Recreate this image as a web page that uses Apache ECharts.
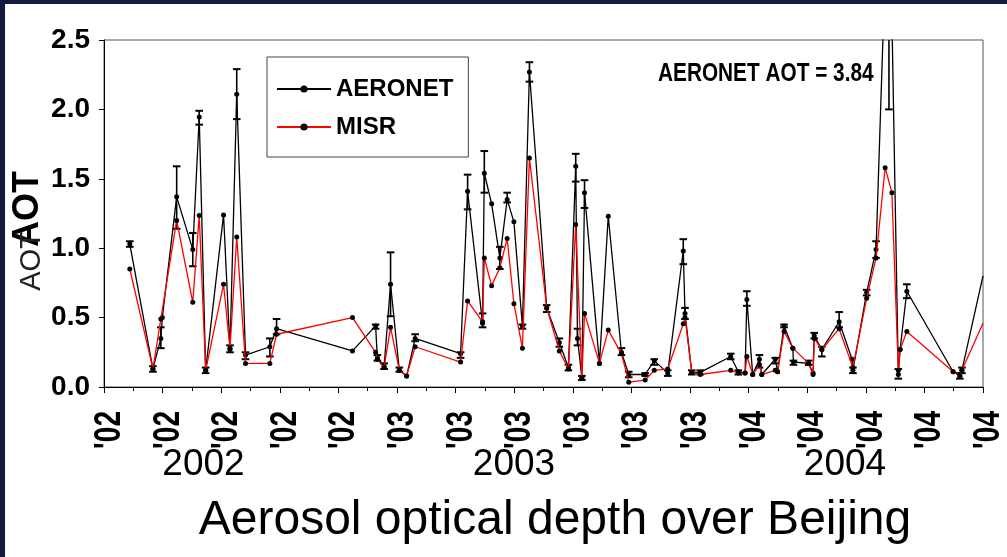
<!DOCTYPE html>
<html><head><meta charset="utf-8">
<script src="https://cdn.jsdelivr.net/npm/echarts@6/dist/echarts.min.js"></script>
<style>html,body{margin:0;padding:0;background:#fff;}#c{width:1007px;height:557px;}</style>
</head><body><div id="c"></div>
<script>
// x = months since Jan 2002 (2 = Mar 2002, 32 = Sep 2004)
const months = [2.88,3.67,3.94,3.99,4.48,5.03,5.25,5.47,6.08,6.30,6.53,6.83,7.66,7.89,10.48,11.27,11.33,11.56,11.78,12.08,12.33,12.62,14.17,14.41,14.92,14.98,15.23,15.51,15.76,15.99,16.28,16.52,17.11,17.54,17.85,18.10,18.16,18.31,18.40,18.91,19.21,19.66,19.91,20.47,20.78,21.24,21.77,21.83,22.06,22.35,23.39,23.65,23.88,23.94,24.14,24.37,24.45,24.91,24.99,25.21,25.51,25.53,26.05,26.20,26.24,26.50,27.09,27.53,27.56,28.03,28.35,28.66,28.79,28.89,29.11,29.17,29.40,30.98,31.21,31.28,32.00];
const aeronet = [1.03,0.13,0.35,0.50,1.37,0.99,1.945,0.12,1.24,0.27,2.11,0.23,0.29,0.42,0.26,0.44,0.21,0.15,0.74,0.12,0.08,0.35,0.24,1.41,0.46,1.54,1.32,0.93,1.35,1.19,0.44,2.27,0.57,0.32,0.14,1.59,0.35,0.065,1.40,0.17,1.23,0.25,0.09,0.09,0.19,0.10,0.98,0.53,0.105,0.105,0.22,0.11,0.10,0.63,0.09,0.20,0.09,0.20,0.11,0.44,0.28,0.18,0.17,0.10,0.37,0.27,0.47,0.20,0.12,0.68,0.99,null,3.84,null,0.09,0.27,0.69,0.11,0.08,0.12,0.80];
const misr = [0.85,0.13,0.49,null,1.20,0.61,1.235,0.12,0.74,0.28,1.08,0.17,0.17,0.38,0.50,0.25,0.20,0.14,0.43,0.12,0.08,0.29,0.18,0.62,0.47,0.93,0.73,0.86,1.07,0.60,0.28,1.65,0.57,0.26,0.13,1.17,null,0.065,0.53,0.17,0.41,0.24,0.035,0.05,0.12,0.13,0.455,0.50,0.105,0.09,0.12,0.10,0.10,0.22,0.09,0.16,0.09,0.12,0.11,0.40,0.28,null,0.17,0.09,0.35,0.27,0.42,null,0.14,0.64,0.93,1.58,null,1.40,0.12,0.27,0.40,0.11,0.08,0.12,0.46];
const errLow = [1.01,0.11,0.28,null,1.14,0.87,1.89,0.10,null,0.25,1.93,0.20,0.22,0.38,null,0.42,0.19,0.13,0.51,0.11,null,0.33,0.21,1.28,0.43,1.40,null,0.85,1.33,null,0.42,2.20,0.54,0.29,0.12,1.48,0.30,0.05,1.29,null,null,0.23,0.07,0.08,0.16,0.08,0.885,0.49,0.09,0.09,0.20,0.09,null,0.585,null,0.14,null,0.17,null,0.43,null,0.16,0.16,null,0.35,0.22,0.43,null,0.10,0.66,0.93,null,2.00,null,0.06,null,0.64,null,0.06,0.10,null];
const errHigh = [1.05,0.15,0.43,null,1.59,1.11,1.99,0.14,null,0.30,2.29,0.25,0.35,0.49,null,0.45,0.23,0.17,0.97,0.14,null,0.38,0.25,1.53,0.53,1.70,null,1.01,1.40,null,0.45,2.34,0.59,0.35,0.16,1.68,0.42,0.08,1.49,null,null,0.28,0.11,0.10,0.20,0.12,1.065,0.57,0.12,0.12,0.24,0.12,null,0.69,null,0.23,null,0.21,null,0.45,null,0.19,0.19,null,0.39,0.29,0.54,null,0.14,0.70,1.05,null,5.68,null,0.13,null,0.74,null,0.10,0.14,null];
const xTickPos = [2,4,6,8,10,12,14,16,18,20,22,24,26,28,30,32];
const xTickLabels = ["'02","'02","'02","'02","'02","'03","'03","'03","'03","'03","'03","'04","'04","'04","'04","'04"];
const seriesNames = ['AERONET','MISR'];
const yearLabels = ['2002','2003','2004'];
const titleText = 'Aerosol optical depth over Beijing';
const noteText = 'AERONET AOT = 3.84';
const yName = 'AOT';

const F = '"Liberation Sans", Arial, sans-serif';

const aData = months.map((m,i)=>[m, aeronet[i]]).filter(d=>d[1]!=null);
const mData = months.map((m,i)=>[m, misr[i]]).filter(d=>d[1]!=null);
const eData = months.map((m,i)=>errLow[i]==null?null:[m, errLow[i], errHigh[i]]).filter(Boolean);

const chart = echarts.init(document.getElementById('c'), null, {renderer:'canvas'});
const symSize = v => (v[0] >= 32 ? 0 : 5);
chart.setOption({
  animation:false,
  backgroundColor:'#fff',
  grid:{left:104,right:24,top:40,bottom:170,show:true,borderColor:'#555',borderWidth:1,containLabel:false},
  legend:{
    data:seriesNames, orient:'vertical', left:267, top:57,
    padding:[20,15,18,9], itemGap:14, itemWidth:54, itemHeight:9,
    borderColor:'#444', borderWidth:1, backgroundColor:'#fff',
    textStyle:{fontFamily:F, fontWeight:'bold', fontSize:24, color:'#000', lineHeight:24}
  },
  xAxis:{
    type:'value', min:2, max:32, interval:2,
    axisLine:{lineStyle:{color:'#000',width:1}},
    axisTick:{show:true,length:6,lineStyle:{color:'#000'}},
    minorTick:{show:true,splitNumber:2,length:4,lineStyle:{color:'#000'}},
    splitLine:{show:false}, minorSplitLine:{show:false},
    axisLabel:{show:false}
  },
  yAxis:{
    type:'value', min:0, max:2.5, interval:0.5,
    axisLine:{show:true,lineStyle:{color:'#000',width:1}},
    axisTick:{show:true,length:5,lineStyle:{color:'#000'}},
    splitLine:{show:false},
    axisLabel:{margin:14, fontFamily:F, fontWeight:'bold', fontSize:28, color:'#000', formatter:v=>v.toFixed(1)}
  },
  series:[
    {type:'custom', name:'err', silent:true, z:3,
     data:eData, encode:{x:0,y:[1,2]},
     renderItem:function(params, api){
       const x=api.value(0), lo=api.value(1), hi=api.value(2);
       const cs=params.coordSys; const top=cs.y, bot=cs.y+cs.height;
       const pL=api.coord([x,lo]), pH=api.coord([x,hi]);
       const yH=Math.max(pH[1],top), yL=Math.min(pL[1],bot);
       const ch=[{type:'line',shape:{x1:pL[0],y1:yL,x2:pL[0],y2:yH},style:{stroke:'#000',lineWidth:1.6}}];
       const hw=3.8;
       if(pH[1]>=top) ch.push({type:'line',shape:{x1:pH[0]-hw,y1:pH[1],x2:pH[0]+hw,y2:pH[1]},style:{stroke:'#000',lineWidth:2}});
       if(pL[1]<=bot) ch.push({type:'line',shape:{x1:pL[0]-hw,y1:pL[1],x2:pL[0]+hw,y2:pL[1]},style:{stroke:'#000',lineWidth:2}});
       return {type:'group',children:ch};
     }},
    {type:'line', name:seriesNames[0], data:aData, z:4, clip:true,
     symbol:'circle', symbolSize:symSize, showAllSymbol:true,
     lineStyle:{color:'#000',width:1.3}, itemStyle:{color:'#000'}},
    {type:'line', name:seriesNames[1], data:mData, z:5, clip:true,
     symbol:'circle', symbolSize:symSize, showAllSymbol:true,
     lineStyle:{color:'#ff0000',width:1.3}, itemStyle:{color:'#000'}}
  ]
});

const graphics = [
  {type:'rect', shape:{x:0,y:0,width:1007,height:4}, style:{fill:'#151a3f'}, z:-10},
  {type:'rect', shape:{x:0,y:0,width:5,height:557}, style:{fill:'#151a3f'}, z:-10},
  {type:'text', x:28, y:209, rotation:Math.PI/2,
   style:{text:yName, font:'bold 36px '+F, fill:'#000', textAlign:'center', textVerticalAlign:'middle'}},
  {type:'text', x:32, y:261, rotation:Math.PI/2,
   style:{text:yName, font:'29px '+F, fill:'#222', textAlign:'center', textVerticalAlign:'middle'}},
  {type:'text', x:203.5, y:465, style:{text:yearLabels[0], font:'37px '+F, fill:'#000', textAlign:'center', textVerticalAlign:'middle'}},
  {type:'text', x:514, y:465, style:{text:yearLabels[1], font:'37px '+F, fill:'#000', textAlign:'center', textVerticalAlign:'middle'}},
  {type:'text', x:845, y:465, style:{text:yearLabels[2], font:'37px '+F, fill:'#000', textAlign:'center', textVerticalAlign:'middle'}},
  {type:'text', x:555, y:521, style:{text:titleText, font:'48px '+F, fill:'#000', textAlign:'center', textVerticalAlign:'middle'}},
  {type:'text', x:658, y:74, scaleX:0.8, style:{text:noteText, font:'bold 26px '+F, fill:'#000', textAlign:'left', textVerticalAlign:'middle'}}
];
xTickPos.forEach((v,i)=>{
  const px = chart.convertToPixel({xAxisIndex:0}, v);
  graphics.push({type:'text', x:px+6, y:411, rotation:Math.PI/2, scaleX:0.78,
    style:{text:xTickLabels[i], font:'bold 36px '+F, fill:'#000', textAlign:'right', textVerticalAlign:'middle'}});
});
chart.setOption({graphic:graphics});
</script></body></html>
